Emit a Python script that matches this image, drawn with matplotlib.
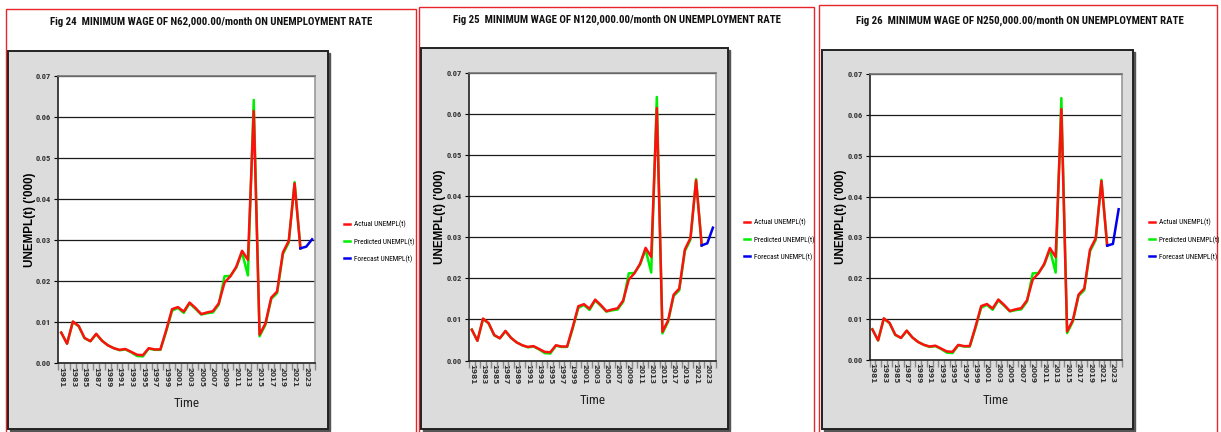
import matplotlib
matplotlib.use('Agg')
import matplotlib.pyplot as plt
from matplotlib.patches import Rectangle
from matplotlib import font_manager
import numpy as np

# data (UNEMPL, 1981-2024)
years = list(range(1981, 2025))
actual = [0.0075, 0.0048, 0.0102, 0.0091, 0.0062, 0.0054, 0.0072, 0.0055, 0.0044, 0.0037,
          0.0033, 0.0035, 0.0028, 0.0021, 0.0020, 0.0037, 0.0034, 0.0034, 0.0081, 0.0132,
          0.0137, 0.0126, 0.0148, 0.0135, 0.0120, 0.0124, 0.0127, 0.0146, 0.0197, 0.0212,
          0.0235, 0.0274, 0.0252, 0.0614, 0.0070, 0.0097, 0.0160, 0.0175, 0.0270, 0.0298,
          0.0438, 0.0280]
predicted = [0.0075, 0.0048, 0.0101, 0.0090, 0.0061, 0.0054, 0.0071, 0.0055, 0.0044, 0.0037,
             0.0032, 0.0034, 0.0027, 0.0018, 0.0017, 0.0036, 0.0033, 0.0033, 0.0078, 0.0128,
             0.0135, 0.0123, 0.0146, 0.0133, 0.0119, 0.0122, 0.0124, 0.0143, 0.0212, 0.0213,
             0.0233, 0.0270, 0.0214, 0.0641, 0.0066, 0.0094, 0.0157, 0.0171, 0.0266, 0.0294,
             0.0441, 0.0280]
fc_years = [2022, 2023, 2024]
forecast_62k = [0.0280, 0.0284, 0.0302]
forecast_120k = [0.0280, 0.0285, 0.0323]
forecast_250k = [0.0280, 0.0284, 0.0369]

titles = ['Fig 24  MINIMUM WAGE OF N62,000.00/month ON UNEMPLOYMENT RATE',
          'Fig 25  MINIMUM WAGE OF N120,000.00/month ON UNEMPLOYMENT RATE',
          'Fig 26  MINIMUM WAGE OF N250,000.00/month ON UNEMPLOYMENT RATE']
forecasts = [forecast_62k, forecast_120k, forecast_250k]

W, H = 1221, 432

# the original uses Arial Narrow; take a narrow face if one is installed
installed = {f.name for f in font_manager.fontManager.ttflist}
narrow_name = next((n for n in ['Liberation Sans Narrow', 'Arial Narrow', 'Roboto Condensed']
                    if n in installed), None)
NARROW = [narrow_name or 'Liberation Sans', 'DejaVu Sans']
shrink = 1.0 if narrow_name else 0.82   # regular Arial is wider, so use a smaller size
SANS = ['Liberation Sans', 'DejaVu Sans']

# layout in pixels (left, top, right, bottom)
layout = [
    dict(border=(6, 9.3, 416, 445), box=(8.3, 51, 328, 429), ax=(58.3, 75.7, 315, 363.4),
         leg=(340, 242), title_x=211.5, title_y=21.7),
    dict(border=(419.3, 7.3, 814, 445), box=(420.7, 48.3, 728.3, 429), ax=(469, 72.7, 715.7, 360.5),
         leg=(740, 240), title_x=616.7, title_y=20),
    dict(border=(819.3, 4.7, 1217, 445), box=(821.7, 50, 1132.7, 429), ax=(869.5, 74, 1121.5, 360),
         leg=(1145, 240), title_x=1019.5, title_y=20.7),
]


def fx(px):
    return px / W


def fy(py):
    return 1 - py / H


fig = plt.figure(figsize=(W / 100, H / 100), dpi=100)
fig.patch.set_facecolor('white')

x_all = np.arange(len(years))
x_hist = x_all[:len(actual)]
x_fc = [years.index(y) for y in fc_years]

for k, L in enumerate(layout):
    # red outer frame
    l, t, r, b = L['border']
    fig.add_artist(Rectangle((fx(l), fy(b)), fx(r - l), (b - t) / H, transform=fig.transFigure,
                             facecolor='none', edgecolor='#e8262a', lw=1.0, zorder=-3))
    # gray chart area with shadow
    l, t, r, b = L['box']
    fig.add_artist(Rectangle((fx(l + 2), fy(b + 2)), fx(r - l), (b - t) / H, transform=fig.transFigure,
                             facecolor='#555555', edgecolor='#555555', lw=1.0, zorder=-2))
    fig.add_artist(Rectangle((fx(l), fy(b)), fx(r - l), (b - t) / H, transform=fig.transFigure,
                             facecolor='#dcdcdc', edgecolor='#222222', lw=1.4, zorder=-1))

    fig.text(fx(L['title_x']), fy(L['title_y']), titles[k], ha='center', va='center',
             fontsize=7.85 * shrink, fontweight='bold', family=NARROW, color='#111111')

    l, t, r, b = L['ax']
    ax = fig.add_axes([fx(l), fy(b), fx(r - l), (b - t) / H])
    ax.set_facecolor('white')

    ax.plot(x_hist, predicted, color='#00ee00', lw=1.8, label='Predicted UNEMPL(t)', zorder=3)
    ax.plot(x_hist, actual, color='#ff1010', lw=1.8, label='Actual UNEMPL(t)', zorder=4)
    ax.plot(x_fc, forecasts[k], color='#0000ee', lw=1.8, label='Forecast UNEMPL(t)', zorder=5)

    ax.set_xlim(-0.5, len(years) - 0.5)
    ax.set_ylim(0, 0.07)
    yt = np.arange(0, 0.0701, 0.01)
    ax.set_yticks(yt)
    ax.set_yticklabels(['%.2f' % v for v in yt], fontsize=6.0 * shrink, fontweight='bold',
                       family=NARROW, color='#333333')
    ax.yaxis.grid(True, color='#1a1a1a', lw=0.9)
    ax.set_axisbelow(True)

    ax.set_xticks(x_all[::2])
    ax.set_xticklabels([str(y) for y in years[::2]], rotation=270, fontsize=5.2,
                       fontweight='bold', family='DejaVu Sans', color='#333333')
    ax.set_xticks(np.arange(-0.5, len(years)), minor=True)
    ax.tick_params(axis='x', which='major', length=0, pad=2.5)
    ax.tick_params(axis='x', which='minor', length=5, color='#888888', width=1)
    ax.tick_params(axis='y', length=3, width=0.8, pad=2)

    ax.spines['left'].set_color('#222222')
    ax.spines['bottom'].set_color('#222222')
    ax.spines['top'].set_color('#777777')
    ax.spines['right'].set_color('#999999')
    for s in ax.spines.values():
        s.set_linewidth(1.2)

    fig.text(fx(l - 28.5), fy((t + b) / 2), "UNEMPL(t) ('000)", rotation=90, ha='center', va='center',
             fontsize=8.4, fontweight='bold', family=SANS)
    fig.text(fx((l + r) / 2), fy(b + 40.5), 'Time', ha='center', va='center',
             fontsize=9.5 * shrink, family=NARROW, color='#222222')

    h, lab = ax.get_legend_handles_labels()
    order = [1, 0, 2]
    lx, ly = L['leg']
    ax.legend([h[i] for i in order], [lab[i] for i in order], loc='center left',
              bbox_to_anchor=(fx(lx), fy(ly)), bbox_transform=fig.transFigure,
              frameon=False, borderpad=0, handlelength=0.95, handletextpad=0.5,
              labelspacing=1.3, prop={'family': NARROW, 'size': 5.2 * shrink})

fig.savefig('out.png', dpi=100)
